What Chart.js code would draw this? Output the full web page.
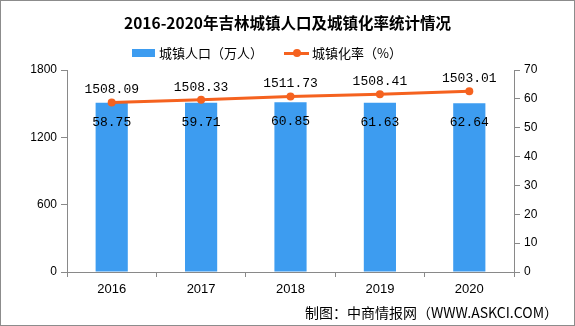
<!DOCTYPE html>
<html>
<head>
<meta charset="utf-8">
<script src="https://cdn.jsdelivr.net/npm/chart.js@4.4.1/dist/chart.umd.min.js"></script>
<style>
    html, body { margin: 0; padding: 0; background: #fff; }
    #wrap { position: relative; width: 575px; height: 326px; overflow: hidden; font-family: "Noto Sans CJK SC", sans-serif; color: #000; }
    #frame { position: absolute; left: 0; top: 0; width: 575px; height: 326px; box-sizing: border-box; border: 1px solid #8c8c8c; pointer-events: none; }
    canvas { position: absolute; left: 0; top: 0; }
    #title { position: absolute; left: 0; width: 575px; top: 10px; text-align: center; font-size: 15.5px; font-weight: bold; line-height: 24px; }
    #legend { position: absolute; top: 44px; left: 132px; height: 18px; font-size: 13px; line-height: 18px; display: flex; align-items: center; }
    .box { width: 23px; height: 8px; background: #3d9cf0; margin-right: 4px; }
    .ln { position: relative; width: 25px; height: 3px; background: #f5621f; margin-right: 3px; }
    .ln::after { content: ''; position: absolute; left: 9px; top: -2.5px; width: 8px; height: 8px; border-radius: 50%; background: #f5621f; }
    #footer { position: absolute; right: 17px; top: 303px; font-size: 14px; line-height: 18px; }
</style>
</head>
<body>
<div id="wrap">
    <canvas id="chart" width="575" height="326"></canvas>
    <div id="title">2016-2020年吉林城镇人口及城镇化率统计情况</div>
    <div id="legend">
        <span class="box"></span><span>城镇人口（万人）</span>
        <span style="width:21px"></span>
        <span class="ln"></span><span>城镇化率（%）</span>
    </div>
    <div id="footer">制图：中商情报网（WWW.ASKCI.COM）</div>
    <div id="frame"></div>
</div>
<script>
const years = ['2016', '2017', '2018', '2019', '2020'];
const population = [1508.09, 1508.33, 1511.73, 1508.41, 1503.01];
const urbanRate = [58.75, 59.71, 60.85, 61.63, 62.64];
const popMax = 1800;
const popStep = 600;
const rateMax = 70;
const rateStep = 10;

const axisColor = '#898989';
const blue = '#3d9cf0';
const orange = '#f5621f';

// etiquetas de valores encima de barras y debajo de puntos
const valueLabels = {
    id: 'valueLabels',
    afterDatasetsDraw(chart) {
        const ctx = chart.ctx;
        ctx.save();
        ctx.font = '13px "Liberation Mono", monospace';
        ctx.fillStyle = '#000';
        ctx.textAlign = 'center';
        chart.getDatasetMeta(0).data.forEach((el, i) => {
            ctx.textBaseline = 'bottom';
            ctx.fillText(population[i].toFixed(2), el.x, el.y - 6);
        });
        chart.getDatasetMeta(1).data.forEach((el, i) => {
            ctx.textBaseline = 'top';
            ctx.fillText(urbanRate[i].toFixed(2), el.x, el.y + 13);
        });
        ctx.restore();
    }
};

new Chart(document.getElementById('chart'), {
    data: {
        labels: years,
        datasets: [
            {
                type: 'line',
                label: '城镇化率（%）',
                data: urbanRate,
                yAxisID: 'y1',
                borderColor: orange,
                backgroundColor: orange,
                borderWidth: 3,
                pointRadius: 4,
                pointBackgroundColor: orange,
                pointBorderWidth: 0,
                order: 0
            },
            {
                type: 'bar',
                label: '城镇人口（万人）',
                data: population,
                yAxisID: 'y',
                backgroundColor: blue,
                barPercentage: 0.36,
                categoryPercentage: 1,
                order: 1
            }
        ]
    },
    options: {
        responsive: false,
        animation: false,
        layout: { padding: { top: 70, left: 0, right: 0, bottom: 0 } },
        plugins: { legend: { display: false }, tooltip: { enabled: false } },
        scales: {
            x: {
                offset: true,
                grid: { offset: true, drawOnChartArea: false, drawTicks: true, tickLength: 5, color: axisColor },
                border: { color: axisColor },
                ticks: { color: '#000', font: { family: 'Liberation Sans', size: 13 }, padding: 5 },
                afterFit: s => { s.height = 54; }
            },
            y: {
                position: 'left',
                min: 0,
                max: popMax,
                grid: { drawOnChartArea: false, tickLength: 6, color: axisColor },
                border: { color: axisColor },
                ticks: { stepSize: popStep, color: '#000', font: { family: 'Liberation Sans', size: 12 }, padding: 4, callback: v => String(v) },
                afterFit: s => { s.width = 67; }
            },
            y1: {
                position: 'right',
                min: 0,
                max: rateMax,
                grid: { drawOnChartArea: false, tickLength: 6, color: axisColor },
                border: { color: axisColor },
                ticks: { stepSize: rateStep, color: '#000', font: { family: 'Liberation Sans', size: 12 }, padding: 4, callback: v => String(v) },
                afterFit: s => { s.width = 61; }
            }
        }
    },
    plugins: [valueLabels]
});
</script>
</body>
</html>
